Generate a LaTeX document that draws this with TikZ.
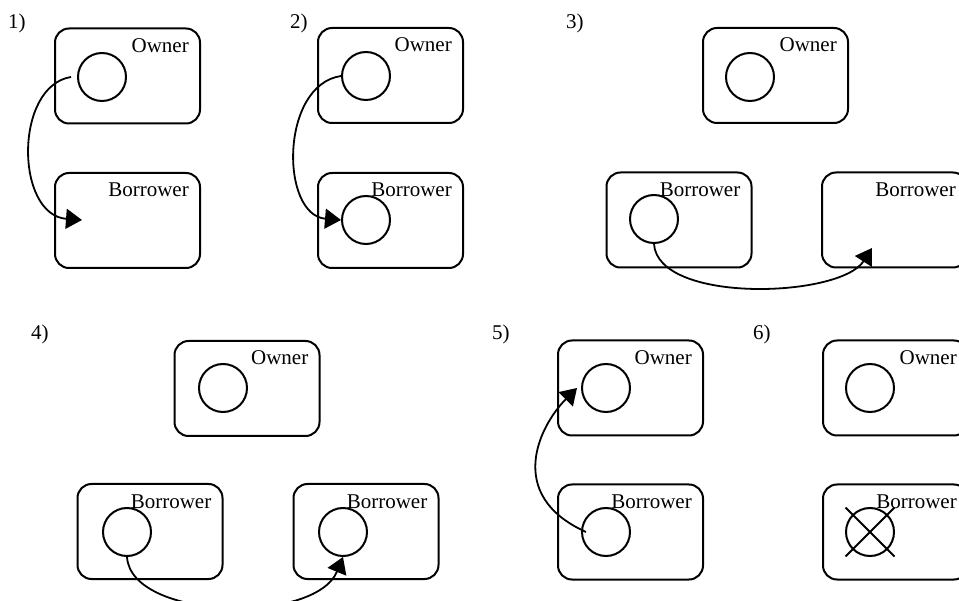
\documentclass[tikz,border=0pt]{standalone}
\usepackage{fontspec}
\setmainfont{Liberation Serif}
\usetikzlibrary{arrows.meta,calc}

\tikzset{
  frame/.style={draw, line width=2pt, rounded corners=14pt, rectangle,
    minimum width=145pt, minimum height=95pt, inner sep=0pt},
  obj/.style={draw, circle, line width=2pt, minimum size=48pt, inner sep=0pt},
  txt/.style={font=\fontsize{21}{25}\selectfont, inner sep=0pt, anchor=base east},
  num/.style={font=\fontsize{21}{25}\selectfont, inner sep=0pt, anchor=base west},
  move/.style={line width=1.8pt, -{Triangle[length=16pt,width=20pt]}},
  cross/.style={line width=2pt}
}

\begin{document}
\begin{tikzpicture}[x=1pt,y=-1pt]
\useasboundingbox (0,0) rectangle (959,601);

% ---------- step 1: value leaves the owner ----------
\node[num] (n1) at (8,29) {1)};
\node[frame] (o1) at (127.5,76) {};
\node[frame] (b1) at (127.5,220.5) {};
\node[txt] (o1t) at ($(o1.north east)+(-12,25)$) {Owner};
\node[txt] (b1t) at ($(b1.north east)+(-12,25)$) {Borrower};
\node[obj] (c1) at (102,77) {};
\coordinate (t1) at (82,220);
\draw[move] ([xshift=-6pt]c1.west) .. controls +(-57,9) and +(-67,-5) .. (t1);

% ---------- step 2: borrower holds a reference ----------
\node[num] (n2) at (290,29) {2)};
\node[frame] (o2) at (390.5,75.5) {};
\node[frame] (b2) at (390.5,220.5) {};
\node[txt] (o2t) at ($(o2.north east)+(-12,25)$) {Owner};
\node[txt] (b2t) at ($(b2.north east)+(-12,25)$) {Borrower};
\node[obj] (c2a) at (366,76) {};
\node[obj] (c2b) at (366,220) {};
\draw[move] (c2a.west) .. controls +(-61,9) and +(-61,-5) .. (c2b.west);

% ---------- step 3: reference passed on ----------
\node[num] (n3) at (566,29) {3)};
\node[frame] (o3) at (775.5,75.5) {};
\node[frame] (b3a) at (679,220) {};
\node[frame] (b3b) at (894.5,220) {};
\node[txt] (o3t) at ($(o3.north east)+(-12,25)$) {Owner};
\node[txt] (b3at) at ($(b3a.north east)+(-12,25)$) {Borrower};
\node[txt] (b3bt) at ($(b3b.north east)+(-12,25)$) {Borrower};
\node[obj] (c3a) at (750,77) {};
\node[obj] (c3b) at (654,219) {};
\coordinate (t3) at (872,248);
\draw[move] (c3b.south) .. controls +(4,60) and +(-32,50) .. (t3);

% ---------- step 4: second borrower gets its own reference ----------
\node[num] (n4) at (31,340) {4)};
\node[frame] (o4) at (247,388.5) {};
\node[frame] (b4a) at (150,531.5) {};
\node[frame] (b4b) at (366,531.5) {};
\node[txt] (o4t) at ($(o4.north east)+(-12,25)$) {Owner};
\node[txt] (b4at) at ($(b4a.north east)+(-12,25)$) {Borrower};
\node[txt] (b4bt) at ($(b4b.north east)+(-12,25)$) {Borrower};
\node[obj] (c4a) at (223,388) {};
\node[obj] (c4b) at (127,532) {};
\node[obj] (c4c) at (343,532) {};
\draw[move] (c4b.south) .. controls +(4,63) and +(-28,68) .. (c4c.south);

% ---------- step 5: value returned to the owner ----------
\node[num] (n5) at (492,340) {5)};
\node[frame] (o5) at (630.5,388) {};
\node[frame] (b5) at (630.5,532) {};
\node[txt] (o5t) at ($(o5.north east)+(-12,25)$) {Owner};
\node[txt] (b5t) at ($(b5.north east)+(-12,25)$) {Borrower};
\node[obj] (c5a) at (606,388) {};
\node[obj] (c5b) at (606,532) {};
\draw[move] ([xshift=5pt]c5b.west) .. controls +(-82,-37) and +(-37,37) .. ([xshift=-4pt]c5a.west);

% ---------- step 6: borrowed reference dropped ----------
\node[num] (n6) at (753,340) {6)};
\node[frame] (o6) at (895.5,388) {};
\node[frame] (b6) at (895.5,532) {};
\node[txt] (o6t) at ($(o6.north east)+(-12,25)$) {Owner};
\node[txt] (b6t) at ($(b6.north east)+(-12,25)$) {Borrower};
\node[obj] (c6a) at (870,388) {};
\node[obj] (c6b) at (870,532) {};
\draw[cross] ($(c6b.center)+(-24.5,-24.5)$) -- ($(c6b.center)+(24.5,24.5)$);
\draw[cross] ($(c6b.center)+(-24.5,24.5)$) -- ($(c6b.center)+(24.5,-24.5)$);
\end{tikzpicture}
\end{document}
